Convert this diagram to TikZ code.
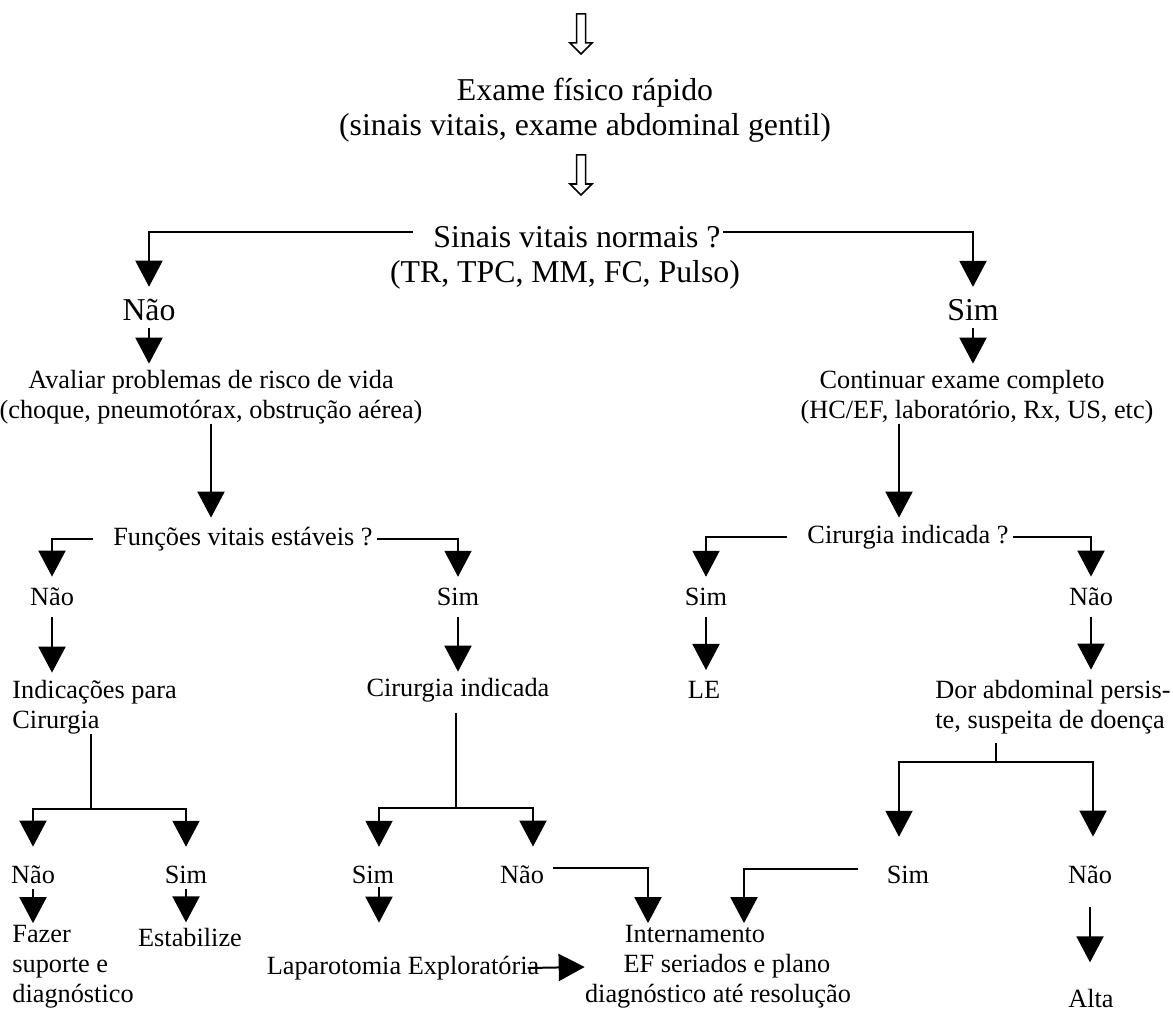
\documentclass[tikz,border=0pt]{standalone}
\usepackage{fontspec}
\setmainfont{Liberation Serif}
\usepackage{tikz}
\usetikzlibrary{arrows.meta,positioning}

\begin{document}
\begin{tikzpicture}[
    x=0.5pt, y=-0.5pt,
    big/.style={inner sep=0pt, font={\fontsize{15.9pt}{17.5pt}\selectfont}, align=center},
    txt/.style={inner sep=0pt, font={\fontsize{13.15pt}{15pt}\selectfont}, align=center},
    arr/.style={line width=1pt, -{Triangle[width=13.5pt, length=13pt]}},
    ln/.style={line width=1pt},
    hollow/.pic={\draw[line width=0.75pt] (-4.5,0) -- (4.5,0) -- (4.5,29) -- (11,29) -- (0,40) -- (-11,29) -- (-4.5,29) -- cycle;}
]
\useasboundingbox (0,0) rectangle (1173,1011);

\pic at (581,14) {hollow};
\node[big] (exame) at (585,110) {Exame físico rápido\\(sinais vitais, exame abdominal gentil)};
\pic at (581,155) {hollow};
\node[big] (sinais) at (577,237) {Sinais vitais normais ?};
\node[big] (sinaisvals) at (565,275) {(TR, TPC, MM, FC, Pulso)};
\node[big] (nao1) at (149,310) {Não};
\node[big] (sim1) at (973,310) {Sim};

\node[txt] (aval) at (211,397) {Avaliar problemas de risco de vida\\(choque, pneumotórax, obstrução aérea)};
\node[txt] (cont) at (977,397) {Continuar exame completo\hspace*{15pt}\\(HC/EF, laboratório, Rx, US, etc)};

\node[txt] (funcoes) at (243,539) {Funções vitais estáveis ?};
\node[txt] (cirq) at (908,537) {Cirurgia indicada ?};
\node[txt] (nao2) at (52,597) {Não};
\node[txt] (sim2) at (458,597) {Sim};
\node[txt] (sim3) at (706,597) {Sim};
\node[txt] (nao3) at (1091,597) {Não};

\node[txt, anchor=west, align=left] (indic) at (12,707) {Indicações para\\Cirurgia};
\node[txt] (cirind) at (458,690) {Cirurgia indicada};
\node[txt] (le) at (704,690) {LE};
\node[txt, anchor=west, align=left] (dor) at (935,707) {Dor abdominal persis-\\te, suspeita de doença};

\node[txt] (nao4) at (33,875) {Não};
\node[txt] (sim4) at (186,875) {Sim};
\node[txt] (sim5) at (373,875) {Sim};
\node[txt] (nao5) at (522,875) {Não};
\node[txt] (sim6) at (908,875) {Sim};
\node[txt] (nao6) at (1090,875) {Não};

\node[txt, anchor=west, align=left] (fazer) at (12,967) {Fazer\\suporte e\\diagnóstico};
\node[txt] (estab) at (190,937) {Estabilize};
\node[txt] (lap) at (403,968) {Laparotomia Exploratória};
\node[txt] (intern) at (718,967) {Internamento\hspace*{23pt}\\\hspace*{9pt}EF seriados e plano\\diagnóstico até resolução};
\node[txt] (alta) at (1091,998) {Alta};

\coordinate (forkA) at (91,809);
\coordinate (forkB) at (456,808);
\coordinate (forkC) at (996,762);
\coordinate (contout) at ([xshift=-39pt]cont.south);
\coordinate (lapin) at ([xshift=3pt]sim5.south);

\draw[arr] ([shift={(-10pt,2.5pt)}]sinais.west) -| ([yshift=6pt]nao1.north);
\draw[arr] ([shift={(1pt,2.5pt)}]sinais.east) -| ([yshift=6pt]sim1.north);
\draw[arr, shorten <=3.5pt, shorten >=3pt] (nao1.south) -- (nao1.south |- aval.north);
\draw[arr, shorten <=3.5pt, shorten >=3pt] (sim1.south) -- (sim1.south |- cont.north);

\draw[arr, shorten >=4.5pt] (aval.south) -- (aval.south |- funcoes.north);
\draw[arr] ([xshift=-10pt]funcoes.west) -| ([yshift=5.5pt]nao2.north);
\draw[arr] ([xshift=2pt]funcoes.east) -| ([yshift=5.5pt]sim2.north);
\draw[arr, shorten <=5.5pt, shorten >=3.5pt] (nao2.south) -- (nao2.south |- indic.north);
\draw[arr, shorten <=5.5pt, shorten >=3pt] (sim2.south) -- (sim2.south |- cirind.north);

\draw[ln] (forkA |- indic.south) -- (forkA);
\draw[arr] (forkA) -| ([yshift=9.5pt]nao4.north);
\draw[arr] (forkA) -| ([yshift=9.5pt]sim4.north);
\draw[arr, shorten <=2.5pt, shorten >=1pt] (nao4.south) -- (nao4.south |- fazer.north);
\draw[arr, shorten <=2.5pt, shorten >=2.5pt] (sim4.south) -- (sim4.south |- estab.north);

\draw[ln, shorten <=5.5pt] (forkB |- cirind.south) -- (forkB);
\draw[arr] (forkB) -| ([shift={(3pt,9.5pt)}]sim5.north);
\draw[arr] (forkB) -| ([shift={(5.5pt,9.5pt)}]nao5.north);
\draw[arr, shorten <=1.5pt, shorten >=16.5pt] (lapin) -- (lapin |- lap.north);
\draw[arr] ([shift={(4.5pt,3.5pt)}]nao5.east) -| ([shift={(-35pt,1pt)}]intern.north);
\draw[arr] ([xshift=-6pt]lap.east) -- (intern.west);

\draw[arr, shorten >=3.5pt] (contout) -- (contout |- cirq.north);
\draw[arr] ([xshift=-10pt]cirq.west) -| ([yshift=5.5pt]sim3.north);
\draw[arr] ([xshift=2pt]cirq.east) -| ([yshift=5.5pt]nao3.north);
\draw[arr, shorten <=5.5pt, shorten >=5.5pt] (sim3.south) -- (sim3.south |- le.north);
\draw[arr, shorten <=5.5pt, shorten >=5pt] (nao3.south) -- (nao3.south |- dor.north);

\draw[ln, shorten <=4.5pt] (forkC |- dor.south) -- (forkC);
\draw[arr] (forkC) -| ([shift={(-4.5pt,14.5pt)}]sim6.north);
\draw[arr] (forkC) -| ([shift={(1.5pt,14.5pt)}]nao6.north);
\draw[arr] ([shift={(-14pt,3pt)}]sim6.west) -| ([shift={(13pt,1pt)}]intern.north);
\draw[arr, shorten <=11.5pt, shorten >=13pt] (nao6.south) -- (nao6.south |- alta.north);

\end{tikzpicture}
\end{document}
